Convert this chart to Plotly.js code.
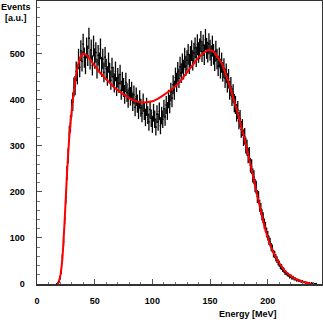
<!DOCTYPE html>
<html>
<head>
<meta charset="utf-8">
<script src="https://cdn.plot.ly/plotly-3.0.1.min.js"></script>
<style>
  html, body { margin: 0; padding: 0; background: #fff; }
  #plot { width: 323px; height: 328px; }
</style>
</head>
<body>
<div id="plot"></div>
<script>
// histogram: 1 MeV bins, first bin centred at 17 MeV
var binStart = 17;
var binWidth = 1;
var counts = [
  0, 2, 5, 13, 27, 58, 92, 141, 188, 241, 279, 326, 348, 382, 396, 428, 431, 462, 455, 489,
  471, 507, 484, 521, 492, 478, 513, 496, 534, 488, 509, 475, 517, 490, 503, 468, 497, 481, 511, 472,
  489, 460, 493, 468, 452, 481, 459, 443, 470, 451, 437, 462, 429, 448, 436, 455, 421, 440, 427, 412,
  438, 416, 403, 425, 408, 419, 396, 411, 384, 407, 392, 378, 401, 383, 371, 394, 376, 362, 385, 367,
  352, 379, 360, 347, 372, 358, 341, 369, 352, 375, 344, 366, 358, 381, 363, 389, 376, 402, 391, 417,
  404, 433, 421, 449, 438, 461, 447, 472, 458, 479, 466, 491, 474, 486, 499, 478, 495, 507, 486, 502,
  513, 494, 520, 503, 511, 527, 505, 519, 498, 531, 512, 504, 522, 508, 496, 517, 499, 485, 506, 489,
  474, 492, 468, 481, 461, 469, 447, 458, 437, 446, 421, 429, 407, 414, 393, 389, 372, 378, 355, 359,
  336, 340, 318, 321, 301, 296, 279, 281, 258, 255, 236, 232, 214, 210, 190, 188, 170, 163, 150, 144,
  131, 124, 112, 105, 95, 91, 80, 77, 66, 64, 57, 53, 47, 44, 38, 37, 32, 30, 25, 24,
  21, 20, 16, 17, 13, 14, 11, 11, 8, 9, 7, 7, 5, 6, 4, 4, 3, 3, 2, 2,
  1, 2, 1, 1, 0, 1
];

// fit curve
var fitEnergy = [18, 20, 22, 24, 26, 28, 30, 32, 34, 36, 38, 40, 42, 45, 50, 55, 60, 65, 70, 75,
  80, 85, 90, 95, 100, 105, 110, 115, 120, 125, 130, 135, 140, 145, 148, 150, 153, 156, 160, 165,
  170, 175, 180, 185, 190, 195, 200, 205, 210, 215, 220, 225, 230, 235, 238];
var fitValues = [0, 15, 55, 140, 240, 320, 375, 420, 455, 480, 495, 500, 499, 492, 474, 458, 445, 432, 421, 412,
  404, 398, 395, 395, 397, 403, 411, 420, 430, 443, 460, 476, 492, 503, 508, 508, 505, 495, 480, 446,
  405, 362, 314, 260, 203, 148, 100, 68, 45, 28, 17, 10, 5, 2, 0];

var xTicks = [0, 50, 100, 150, 200];
var yTicks = [0, 100, 200, 300, 400, 500];

var binCentres = counts.map(function (c, i) { return binStart + i * binWidth; });
var errors = counts.map(function (c) { return Math.sqrt(c); });

var hist = {
  x: binCentres,
  y: counts,
  mode: 'markers',
  type: 'scatter',
  marker: { color: 'black', size: 1.5 },
  error_y: { type: 'data', array: errors, visible: true, color: 'black', thickness: 1.3, width: 0 },
  error_x: { type: 'constant', value: binWidth / 2, visible: true, color: 'black', thickness: 1.3, width: 0 },
  hoverinfo: 'skip'
};

var fit = {
  x: fitEnergy,
  y: fitValues,
  mode: 'lines',
  type: 'scatter',
  line: { color: '#ff0000', width: 2, shape: 'spline', smoothing: 0.6 },
  hoverinfo: 'skip'
};

var labelFont = { family: 'Liberation Sans, Arial, sans-serif', size: 9, color: 'black', weight: 'bold' };

var axisCommon = {
  showgrid: false,
  zeroline: false,
  showline: true,
  linecolor: '#333',
  linewidth: 1.5,
  mirror: true,
  ticks: 'inside',
  ticklen: 5,
  tickwidth: 1,
  tickcolor: '#555',
  tickfont: labelFont,
  tickmode: 'array',
  minor: { ticks: 'inside', ticklen: 2.5, tickwidth: 1, tickcolor: '#777' },
  fixedrange: true
};

var layout = {
  width: 323,
  height: 328,
  margin: { l: 37, r: 1, t: 1, b: 44 },
  paper_bgcolor: 'white',
  plot_bgcolor: 'white',
  showlegend: false,
  xaxis: Object.assign({}, axisCommon, {
    range: [0, 247],
    tickvals: xTicks,
    ticktext: xTicks.map(String),
    minor: Object.assign({}, axisCommon.minor, { dtick: 10, tick0: 0 }),
    ticklabelstandoff: 8
  }),
  yaxis: Object.assign({}, axisCommon, {
    range: [0, 615],
    tickvals: yTicks,
    ticktext: yTicks.map(String),
    minor: Object.assign({}, axisCommon.minor, { dtick: 20, tick0: 0 }),
    ticklabelstandoff: 9
  }),
  annotations: [
    { text: 'Events', xref: 'paper', yref: 'paper', x: -0.074, y: 0.979, xanchor: 'center', yanchor: 'middle',
      showarrow: false, font: labelFont },
    { text: '[a.u.]', xref: 'paper', yref: 'paper', x: -0.074, y: 0.941, xanchor: 'center', yanchor: 'middle',
      showarrow: false, font: labelFont },
    { text: 'Energy [MeV]', xref: 'paper', yref: 'paper', x: 0.74, y: -0.106, xanchor: 'center', yanchor: 'middle',
      showarrow: false, font: labelFont }
  ]
};

Plotly.newPlot('plot', [hist, fit], layout, { staticPlot: true, displayModeBar: false });
</script>
</body>
</html>
